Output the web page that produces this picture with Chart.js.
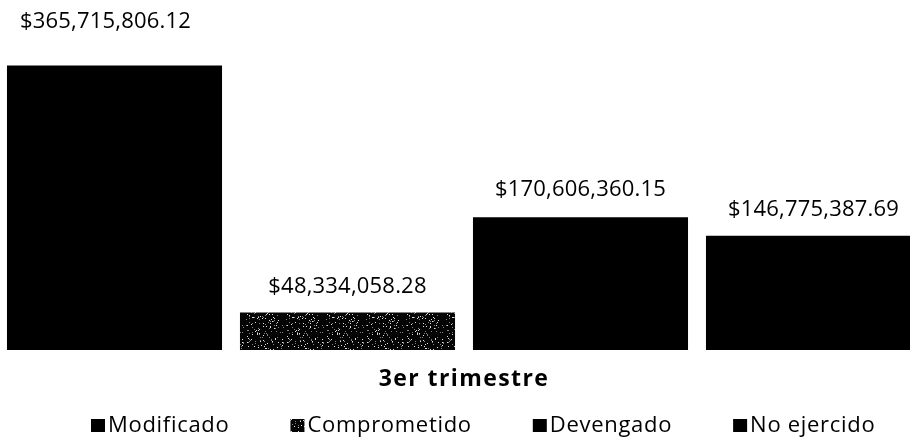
<!DOCTYPE html>
<html><head><meta charset="utf-8">
<style>
html,body{margin:0;padding:0;background:#fff;overflow:hidden;width:910px;height:439px;position:relative}
#wrap{position:absolute;left:-2px;top:0;width:932px;height:439px}
</style>
<script src="https://cdn.jsdelivr.net/npm/chart.js@4.4.1/dist/chart.umd.min.js"></script>
</head><body>
<div id="wrap"><canvas id="c" width="932" height="439"></canvas></div>
<script>
// ---- data ----
const categories = ['3er trimestre'];
const seriesNames = ['Modificado', 'Comprometido', 'Devengado', 'No ejercido'];
const modificado = [365715806.12];
const comprometido = [48334058.28];
const devengado = [170606360.15];
const noEjercido = [146775387.69];
const yMax = 450000000;

// ---- styles ----
const labelGap = [38, 19, 21, 20];
const labelNudgeX = [-9, 0, 0, 0];
const FONT = '"Open Sans", "Noto Sans", sans-serif';

function speckle() {
  const N = 40;
  const c = document.createElement('canvas');
  c.width = N; c.height = N;
  const g = c.getContext('2d');
  g.fillStyle = '#050505';
  g.fillRect(0, 0, N, N);
  for (let y = 0; y < N; y++) {
    for (let x = 0; x < N; x++) {
      let h = (x * 374761393 + y * 668265263) | 0;
      h = Math.imul(h ^ (h >>> 13), 1274126177);
      h = (h ^ (h >>> 16)) >>> 0;
      const r = h % 100;
      if (r < 9) {
        g.fillStyle = r < 4 ? '#e0e0e0' : '#808080';
        g.fillRect(x, y, 1, 1);
      }
    }
  }
  return g.createPattern(c, 'repeat');
}
const pattern = speckle();
const colors = ['#000000', pattern, '#000000', '#000000'];
const seriesData = [modificado, comprometido, devengado, noEjercido];

function fmt(v) {
  return '$' + v.toLocaleString('en-US', {minimumFractionDigits: 2, maximumFractionDigits: 2});
}

const spacingPlugin = {
  id: 'spacing',
  beforeDraw(chart) { chart.ctx.letterSpacing = '1.4px'; }
};

const valueLabels = {
  id: 'valueLabels',
  afterDatasetsDraw(chart) {
    const ctx = chart.ctx;
    ctx.save();
    ctx.font = '22px ' + FONT;
    ctx.letterSpacing = '0.2px';
    ctx.fillStyle = '#000';
    ctx.textAlign = 'center';
    ctx.textBaseline = 'alphabetic';
    chart.data.datasets.forEach((ds, i) => {
      chart.getDatasetMeta(i).data.forEach((bar, j) => {
        ctx.fillText(fmt(ds.data[j]), bar.x + labelNudgeX[i], bar.y - labelGap[i]);
      });
    });
    ctx.restore();
  }
};

const customLegend = {
  id: 'customLegend',
  afterDraw(chart) {
    const ctx = chart.ctx;
    ctx.save();
    ctx.font = '22px ' + FONT;
    ctx.letterSpacing = '0.7px';
    ctx.textBaseline = 'middle';
    ctx.textAlign = 'left';
    let x = 93;
    const yMid = 425.5;
    chart.data.datasets.forEach((ds) => {
      ctx.fillStyle = ds.backgroundColor;
      ctx.fillRect(x, 419, 14, 13);
      ctx.fillStyle = '#000';
      ctx.fillText(ds.label, x + 17, yMid);
      x += 17 + ctx.measureText(ds.label).width + 61;
    });
    ctx.restore();
  }
};

function build() {
  new Chart(document.getElementById('c'), {
    type: 'bar',
    data: {
      labels: categories,
      datasets: seriesNames.map((n, i) => ({
        label: n,
        data: seriesData[i],
        backgroundColor: colors[i],
        borderWidth: 0
      }))
    },
    options: {
      responsive: false,
      animation: false,
      devicePixelRatio: 1,
      layout: {padding: 0},
      datasets: {bar: {categoryPercentage: 1, barPercentage: 0.923}},
      plugins: {legend: {display: false}, tooltip: {enabled: false}},
      scales: {
        x: {
          grid: {display: false, drawTicks: false},
          border: {display: false},
          ticks: {padding: 16, color: '#000', font: {family: FONT, size: 23, weight: 'bold'}},
          afterFit(s) { s.height = 89; }
        },
        y: {display: false, min: 0, max: yMax}
      }
    },
    plugins: [spacingPlugin, valueLabels, customLegend]
  });
}
if (document.fonts && document.fonts.load) {
  Promise.all([
    document.fonts.load('22px "Open Sans"'),
    document.fonts.load('bold 23px "Open Sans"')
  ]).then(build, build);
} else { build(); }
</script>
</body></html>
